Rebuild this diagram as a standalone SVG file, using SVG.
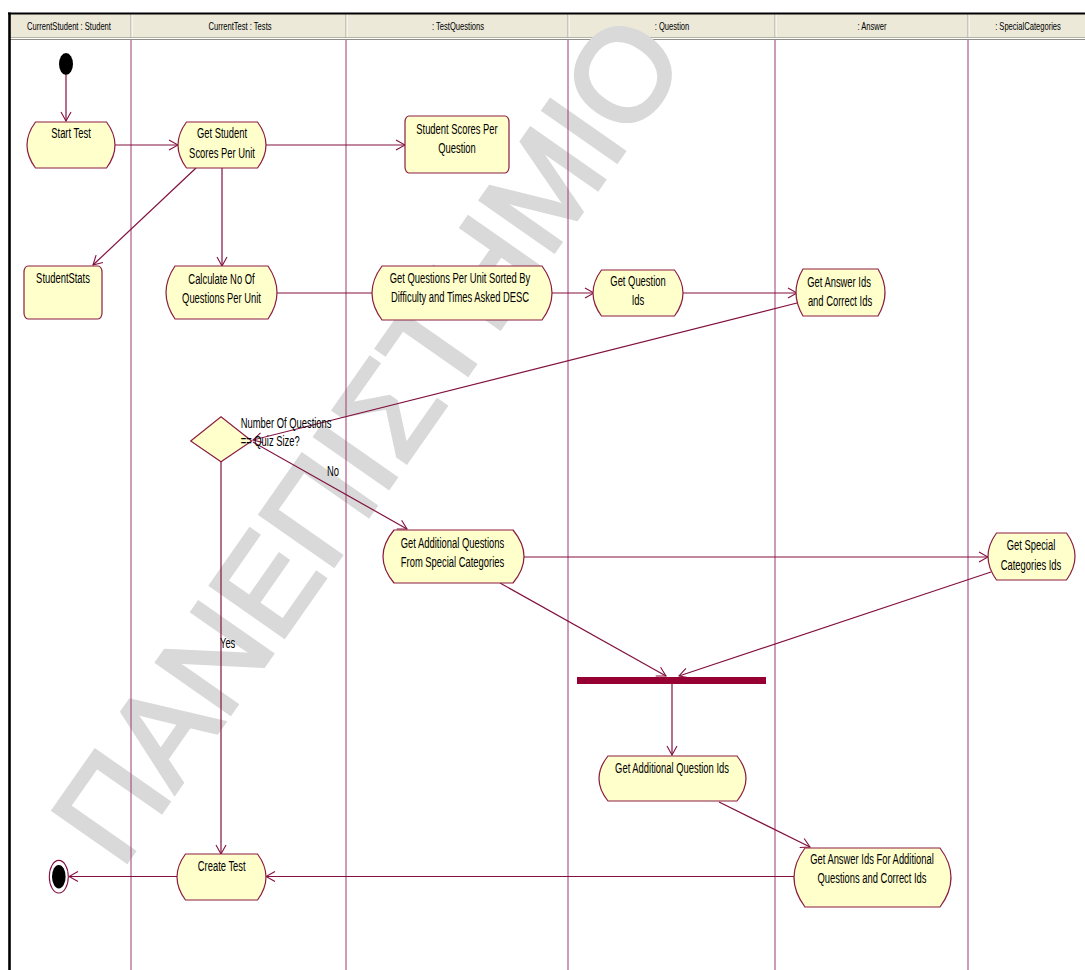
<svg xmlns="http://www.w3.org/2000/svg" width="1085" height="970" viewBox="0 0 1085 970">
  <style>
    .lane { stroke: #9c3b6d; stroke-width: 1; fill: none; }
    .sep { stroke: #a3a296; stroke-width: 1; }
    .sepHi { stroke: #ffffff; stroke-width: 1; }
    .hdr { font-family: "Liberation Sans", Arial, sans-serif; font-size: 11px; fill: #000; text-anchor: middle; }
    .t { font-family: "Liberation Sans", Arial, sans-serif; font-size: 15px; fill: #000; text-anchor: middle; }
    .tl { font-family: "Liberation Sans", Arial, sans-serif; font-size: 15px; fill: #000; text-anchor: start; }
    .act { fill: #ffffcc; stroke: #8c1c43; stroke-width: 1.2; }
    .edge { fill: none; stroke: #82103f; stroke-width: 1.2; marker-end: url(#open); }
    .wm { font-family: "Liberation Sans", Arial, sans-serif; font-size: 130px; fill: #d9d9d9; stroke: #d9d9d9; stroke-width: 4; stroke-linejoin: miter; }
  </style>
  <defs>
    <marker id="open" markerUnits="userSpaceOnUse" viewBox="0 0 11 12" markerWidth="11" markerHeight="12" refX="10" refY="6" orient="auto">
      <path d="M1,1 L10,6 L1,11" fill="none" stroke="#82103f" stroke-width="1.1"/>
    </marker>
  </defs>

  <rect width="1085" height="970" fill="#ffffff"/>

  <!-- swimlane header background -->
  <g id="header">
    <rect x="9" y="14" width="1076" height="24" fill="#ece9d8"/>
    <line x1="9" y1="37.5" x2="1085" y2="37.5" stroke="#b4b3a7"/>
    <line x1="9" y1="39.5" x2="1085" y2="39.5" stroke="#8f8e84"/>
    <line class="sep" x1="131" y1="14" x2="131" y2="38"/>
    <line class="sepHi" x1="132" y1="14" x2="132" y2="37"/>
    <line class="sep" x1="346" y1="14" x2="346" y2="38"/>
    <line class="sepHi" x1="347" y1="14" x2="347" y2="37"/>
    <line class="sep" x1="568" y1="14" x2="568" y2="38"/>
    <line class="sepHi" x1="569" y1="14" x2="569" y2="37"/>
    <line class="sep" x1="775" y1="14" x2="775" y2="38"/>
    <line class="sepHi" x1="776" y1="14" x2="776" y2="37"/>
    <line class="sep" x1="968" y1="14" x2="968" y2="38"/>
    <line class="sepHi" x1="969" y1="14" x2="969" y2="37"/>
  </g>

  <!-- watermark -->
  <text class="wm" transform="translate(120.7 870.2) rotate(-55)">ΠΑΝΕΠΙΣΤΗΜΙΟ</text>

  <!-- swimlane titles -->
  <g id="lane-titles">
    <text class="hdr" transform="translate(69 29.5) scale(.69 1)">CurrentStudent : Student</text>
    <text class="hdr" transform="translate(240 29.5) scale(.69 1)">CurrentTest : Tests</text>
    <text class="hdr" transform="translate(458 29.5) scale(.69 1)">: TestQuestions</text>
    <text class="hdr" transform="translate(672 29.5) scale(.69 1)">: Question</text>
    <text class="hdr" transform="translate(872 29.5) scale(.69 1)">: Answer</text>
    <text class="hdr" transform="translate(1028 29.5) scale(.69 1)">: SpecialCategories</text>
  </g>

  <!-- lane dividers and frame -->
  <g id="lanes">
    <line class="lane" x1="131" y1="40" x2="131" y2="970"/>
    <line class="lane" x1="346" y1="40" x2="346" y2="970"/>
    <line class="lane" x1="568" y1="40" x2="568" y2="970"/>
    <line class="lane" x1="775" y1="40" x2="775" y2="970"/>
    <line class="lane" x1="968" y1="40" x2="968" y2="970"/>
    <line x1="8" y1="13.5" x2="1085" y2="13.5" stroke="#000" stroke-width="2"/>
    <line x1="9.5" y1="12.5" x2="9.5" y2="970" stroke="#000" stroke-width="2.6"/>
  </g>

  <!-- transitions -->
  <g id="connectors">
    <path class="edge" d="M66,75 V121"/>
    <path class="edge" d="M115,145 H178"/>
    <path class="edge" d="M266,145 H405"/>
    <path class="edge" d="M196,168 L93,265"/>
    <path class="edge" d="M222,168 V266"/>
    <path class="edge" d="M277,293 H382"/>
    <path class="edge" d="M540,293 H594"/>
    <path class="edge" d="M683,293 H797"/>
    <path class="edge" d="M797,303 L253,440"/>
    <path class="edge" d="M253,442 L407,529"/>
    <path class="edge" d="M524,557 H988"/>
    <path class="edge" d="M500,583 L666,676"/>
    <path class="edge" d="M991,572 L679,676"/>
    <path class="edge" d="M672,684 V755"/>
    <path class="edge" d="M719,802 L810,847"/>
    <path class="edge" d="M800,876.5 H266"/>
    <path class="edge" d="M221,462 V854"/>
    <path class="edge" d="M177,876.5 H69"/>
    <text class="tl" transform="translate(327 475.5) scale(.627 1)">No</text>
    <text class="tl" transform="translate(220 648) scale(.627 1)">Yes</text>
  </g>

  <!-- nodes -->
  <g id="n-initial">
    <ellipse cx="66" cy="64" rx="7" ry="11" fill="#000"/>
  </g>
  <g id="n-start-test">
    <path class="act" d="M35.5,122 H106.5 Q123.5,145 106.5,168 H35.5 Q18.5,145 35.5,122 Z"/>
    <text class="t" transform="translate(71 138.4) scale(.627 1)">Start Test</text>
  </g>
  <g id="n-get-student-scores">
    <path class="act" d="M186.5,122 H257.5 Q274.5,145 257.5,168 H186.5 Q169.5,145 186.5,122 Z"/>
    <text class="t" transform="translate(222 138.4) scale(.627 1)">Get Student</text>
    <text class="t" transform="translate(222 157.7) scale(.627 1)">Scores Per Unit</text>
  </g>
  <g id="n-student-scores-per-question">
    <rect class="act" x="405" y="116" width="104" height="57" rx="4" ry="6"/>
    <text class="t" transform="translate(457 134.4) scale(.627 1)">Student Scores Per</text>
    <text class="t" transform="translate(457 153.4) scale(.627 1)">Question</text>
  </g>
  <g id="n-student-stats">
    <rect class="act" x="24" y="266" width="78" height="53" rx="4" ry="6"/>
    <text class="t" transform="translate(63 283.4) scale(.627 1)">StudentStats</text>
  </g>
  <g id="n-calculate">
    <path class="act" d="M175,266 H268 Q286,292.5 268,319 H175 Q157,292.5 175,266 Z"/>
    <text class="t" transform="translate(221.5 283.7) scale(.627 1)">Calculate No Of</text>
    <text class="t" transform="translate(221.5 302.7) scale(.627 1)">Questions Per Unit</text>
  </g>
  <g id="n-get-questions-per-unit">
    <path class="act" d="M382,266 H542 Q562,293 542,320 H382 Q362,293 382,266 Z"/>
    <text class="t" transform="translate(460 283) scale(.627 1)">Get Questions Per Unit Sorted By</text>
    <text class="t" transform="translate(460 302) scale(.627 1)">Difficulty and Times Asked DESC</text>
  </g>
  <g id="n-get-question-ids">
    <path class="act" d="M601.5,270 H674.5 Q691.5,293 674.5,316 H601.5 Q584.5,293 601.5,270 Z"/>
    <text class="t" transform="translate(638 286.4) scale(.627 1)">Get Question</text>
    <text class="t" transform="translate(638 305.4) scale(.627 1)">Ids</text>
  </g>
  <g id="n-get-answer-ids">
    <path class="act" d="M803,269 H878 Q892,292.5 878,316 H803 Q789,292.5 803,269 Z"/>
    <text class="t" transform="translate(839 287) scale(.627 1)">Get Answer Ids</text>
    <text class="t" transform="translate(840 306) scale(.627 1)">and Correct Ids</text>
  </g>
  <g id="n-decision">
    <polygon class="act" points="190.7,441 221,416.7 251.7,441 221,461.7"/>
    <text class="tl" transform="translate(240.7 427.7) scale(.627 1)">Number Of Questions</text>
    <text class="tl" transform="translate(240.7 446.4) scale(.627 1)">== Quiz Size?</text>
  </g>
  <g id="n-get-additional-questions">
    <path class="act" d="M394,530 H513 Q535,556.5 513,583 H394 Q372,556.5 394,530 Z"/>
    <text class="t" transform="translate(452.5 547.7) scale(.627 1)">Get Additional Questions</text>
    <text class="t" transform="translate(452.5 567) scale(.627 1)">From Special Categories</text>
  </g>
  <g id="n-get-special-categories">
    <path class="act" d="M996.5,533 H1066.5 Q1083.5,556.5 1066.5,580 H996.5 Q979.5,556.5 996.5,533 Z"/>
    <text class="t" transform="translate(1031 550.4) scale(.627 1)">Get Special</text>
    <text class="t" transform="translate(1031 570.4) scale(.627 1)">Categories Ids</text>
  </g>
  <g id="n-join">
    <rect x="577" y="677" width="189" height="7" fill="#970033"/>
  </g>
  <g id="n-get-additional-question-ids">
    <path class="act" d="M608,756 H737 Q755,778.5 737,801 H608 Q590,778.5 608,756 Z"/>
    <text class="t" transform="translate(672 773) scale(.627 1)">Get Additional Question Ids</text>
  </g>
  <g id="n-get-answer-ids-additional">
    <path class="act" d="M805,848 H940 Q962,877.5 940,907 H805 Q783,877.5 805,848 Z"/>
    <text class="t" transform="translate(872 864.4) scale(.627 1)">Get Answer Ids For Additional</text>
    <text class="t" transform="translate(872 883) scale(.627 1)">Questions and Correct Ids</text>
  </g>
  <g id="n-create-test">
    <path class="act" d="M185.5,854 H257.5 Q274.5,877 257.5,900 H185.5 Q168.5,877 185.5,854 Z"/>
    <text class="t" transform="translate(221.7 871.4) scale(.627 1)">Create Test</text>
  </g>
  <g id="n-final">
    <ellipse cx="58.8" cy="876.7" rx="9.5" ry="16.3" fill="#ffffff" stroke="#82103f" stroke-width="1.1"/>
    <ellipse cx="58.8" cy="876.7" rx="6.8" ry="11.8" fill="#000"/>
  </g>
</svg>
